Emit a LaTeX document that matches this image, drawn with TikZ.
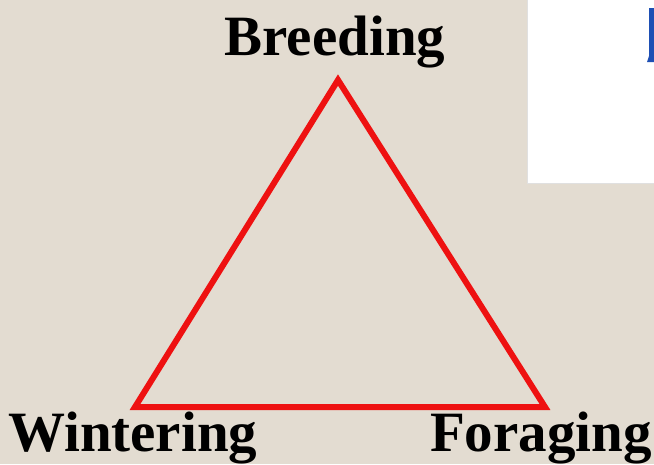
\documentclass[tikz,border=0pt]{standalone}
\usepackage{fontspec}
\setmainfont{Liberation Serif}
\definecolor{bgbeige}{HTML}{E3DCD1}
\definecolor{trired}{HTML}{EE1111}
\definecolor{glyphblue}{HTML}{1E4FB4}
\begin{document}
\begin{tikzpicture}[x=1pt,y=-1pt,
  lbl/.style={inner sep=0pt,font=\fontsize{57}{60}\selectfont\bfseries,text=black},
  triline/.style={draw=trired,line width=6pt,line join=miter}]
\useasboundingbox (0,0) rectangle (654,464);
\fill[bgbeige] (0,0) rectangle (654,464);
% white panel at top right
\fill[white] (527,0) rectangle (654,183);
\draw[black!12,line width=1pt] (527,0) -- (527,183) -- (654,183);
\fill[glyphblue] (649,8) -- (654,8) -- (654,62) -- (647,62) -- (649,56) -- cycle;
% triangle
\coordinate (top) at (338,80);
\coordinate (bl) at (135,407);
\coordinate (br) at (545,407);
\draw[triline] (top) -- (br) -- (bl) -- cycle;
% labels
\node[lbl,anchor=base] (breeding) at (335,55) {Breeding};
\node[lbl,anchor=base west] (wintering) at (8,451) {Wintering};
\node[lbl,anchor=base east] (foraging) at (652,451) {Foraging};
\end{tikzpicture}
\end{document}
